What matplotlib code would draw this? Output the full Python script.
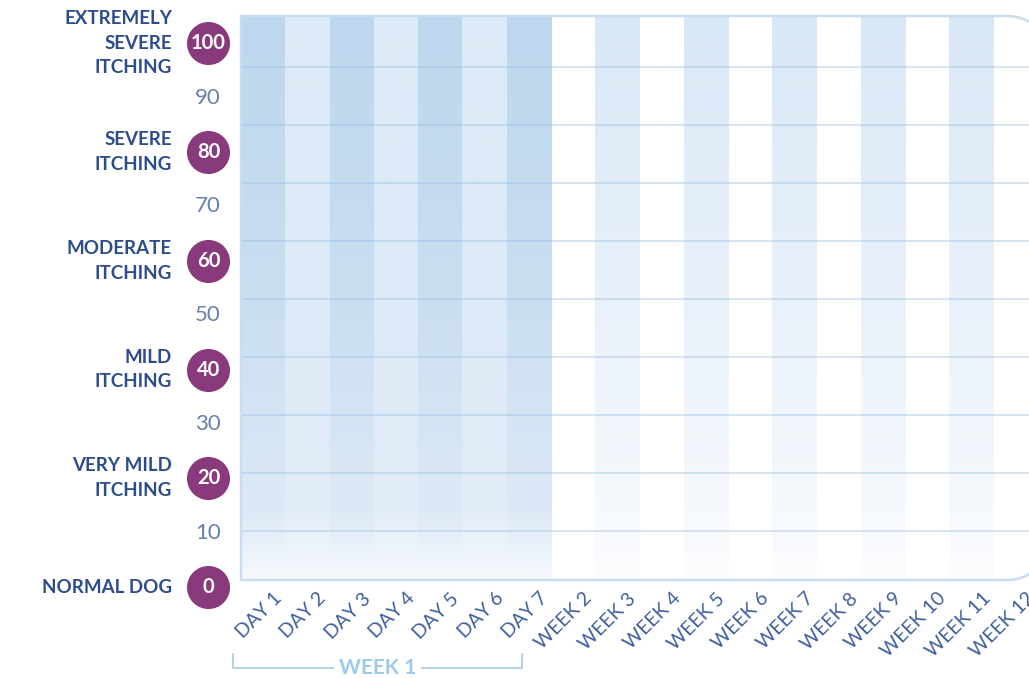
import matplotlib
matplotlib.use('Agg')
import matplotlib.pyplot as plt
from matplotlib.colors import LinearSegmentedColormap
from matplotlib.lines import Line2D
import matplotlib.transforms as mtransforms
import numpy as np

# ---------------- data ----------------
categories = ['DAY 1', 'DAY 2', 'DAY 3', 'DAY 4', 'DAY 5', 'DAY 6', 'DAY 7',
              'WEEK 2', 'WEEK 3', 'WEEK 4', 'WEEK 5', 'WEEK 6', 'WEEK 7',
              'WEEK 8', 'WEEK 9', 'WEEK 10', 'WEEK 11', 'WEEK 12']
column_shade = ['day_dark', 'day_light', 'day_dark', 'day_light', 'day_dark',
                'day_light', 'day_dark',
                'none', 'week', 'none', 'week', 'none', 'week',
                'none', 'week', 'none', 'week', 'none']
major_scores = [0, 20, 40, 60, 80, 100]
severity_labels = ['NORMAL DOG', 'VERY MILD\nITCHING', 'MILD\nITCHING',
                   'MODERATE\nITCHING', 'SEVERE\nITCHING',
                   'EXTREMELY\nSEVERE\nITCHING']
minor_scores = [10, 30, 50, 70, 90]
grid_levels = [10.3, 21.0, 31.6, 42.3, 52.9, 63.6, 74.3, 84.9, 95.6]
y_min, y_max = 1.3, 105.0
bracket_label = 'WEEK 1'

FONT = ['Lato', 'DejaVu Sans']

# ---------------- figure ----------------
W, H = 1029, 678
fig = plt.figure(figsize=(W / 100, H / 100), dpi=100)
fig.patch.set_facecolor('white')
ax = fig.add_axes([241 / W, (H - 580) / H, 797 / W, 564 / H])
ax.set_facecolor('white')
for s in ax.spines.values():
    s.set_visible(False)

cmaps = {
    'day_dark': LinearSegmentedColormap.from_list(
        'dd', [(0, '#f6f9fd'), (0.12, '#dde9f6'), (0.5, '#c9def1'), (1, '#bdd7ee')]),
    'day_light': LinearSegmentedColormap.from_list(
        'dl', [(0, '#f6f9fd'), (0.12, '#e3edf8'), (0.5, '#dce9f6'), (1, '#dcebf7')]),
    'week': LinearSegmentedColormap.from_list(
        'wk', [(0, '#fbfcfe'), (0.12, '#f6f9fd'), (0.5, '#e9f1fa'), (1, '#d9e8f6')]),
}

x = np.arange(len(categories))
heights = [y_max - y_min] * len(categories)
bars = ax.bar(x, heights, width=1.0, bottom=y_min, color='none',
              edgecolor='none', zorder=1)
grad = np.linspace(0, 1, 256).reshape(-1, 1)
for xi, rect, sh in zip(x, bars, column_shade):
    if sh == 'none':
        continue
    im = ax.imshow(grad, extent=(xi - 0.5, xi + 0.5, y_min, y_min + rect.get_height()),
                   origin='lower', aspect='auto', cmap=cmaps[sh],
                   interpolation='bicubic', zorder=1)
    im.set_clip_path(rect)

for g in grid_levels:
    ax.axhline(g, color='#9cc0e4', alpha=0.5, lw=1.2, zorder=2)

ax.set_xlim(-0.5, len(categories) - 0.5)
ax.set_ylim(y_min, y_max)
ax.set_yticks([])

# x tick labels
ax.set_xticks(x)
ax.set_xticklabels(categories, rotation=45, ha='right', va='top',
                   rotation_mode='anchor', fontsize=14, color='#3f5f9e',
                   family=FONT, fontweight='normal')
ax.tick_params(axis='x', length=0, pad=7)
offset = mtransforms.ScaledTranslation(0.1, 0, fig.dpi_scale_trans)
for lab in ax.get_xticklabels():
    lab.set_transform(lab.get_transform() + offset)

# frame with rounded right corners (in pixels, y up); right side lies off-canvas
pix = mtransforms.Affine2D().scale(1 / W, 1 / H) + fig.transFigure
L, B, T = 241, H - 580, H - 16
rad, cx0 = 45, 1007
xs_arc = np.linspace(cx0, W, 30)
drop = rad - np.sqrt(np.clip(rad ** 2 - (xs_arc - cx0) ** 2, 0, None))
fx = np.concatenate([xs_arc[::-1], [L, L], xs_arc])
fy = np.concatenate([(T - drop)[::-1], [T, B], B + drop])
fig.add_artist(Line2D(fx, fy, transform=pix, color='#c9dcf0', lw=1.8,
                      zorder=5, solid_joinstyle='miter'))

# y labels
ytrans = mtransforms.blended_transform_factory(fig.transFigure, ax.transData)
cx = 208 / W
ax.scatter([cx] * len(major_scores), major_scores, s=31 ** 2, color='#893a7c',
           transform=ytrans, clip_on=False, zorder=6, linewidths=0)
for v, lab in zip(major_scores, severity_labels):
    ax.text(cx + 0.5 / W, v, str(v), transform=ytrans, ha='center', va='center',
            color='white', fontsize=14.5, fontweight='bold',
            family=FONT, zorder=7, clip_on=False)
    ax.text(172 / W, v, lab, transform=ytrans, ha='right', va='center',
            color='#2d4c8c', fontsize=13.5, fontweight='bold',
            family=FONT, linespacing=1.55, clip_on=False)
for v in minor_scores:
    ax.text(cx, v, str(v), transform=ytrans, ha='center', va='center',
            color='#6880ae', fontsize=16, fontweight='normal',
            family=FONT, clip_on=False)

# WEEK 1 bracket under the day labels
bx0, bx1 = -0.68, 5.85
by_low, by_high = 10, 24
xt = mtransforms.blended_transform_factory(ax.transData, pix)
bcol = '#a9cdea'
text_x = (bx0 + bx1) / 2
ax.plot([bx0, bx0, text_x - 1.0], [by_high, by_low, by_low], color=bcol, lw=1.3,
        transform=xt, clip_on=False)
ax.plot([text_x + 1.0, bx1, bx1], [by_low, by_low, by_high], color=bcol, lw=1.3,
        transform=xt, clip_on=False)
ax.text(text_x, by_low, bracket_label, transform=xt, ha='center', va='center',
        color='#9ccbea', fontsize=15, fontweight='bold',
        family=FONT, clip_on=False)

fig.savefig('out.png', dpi=100)
